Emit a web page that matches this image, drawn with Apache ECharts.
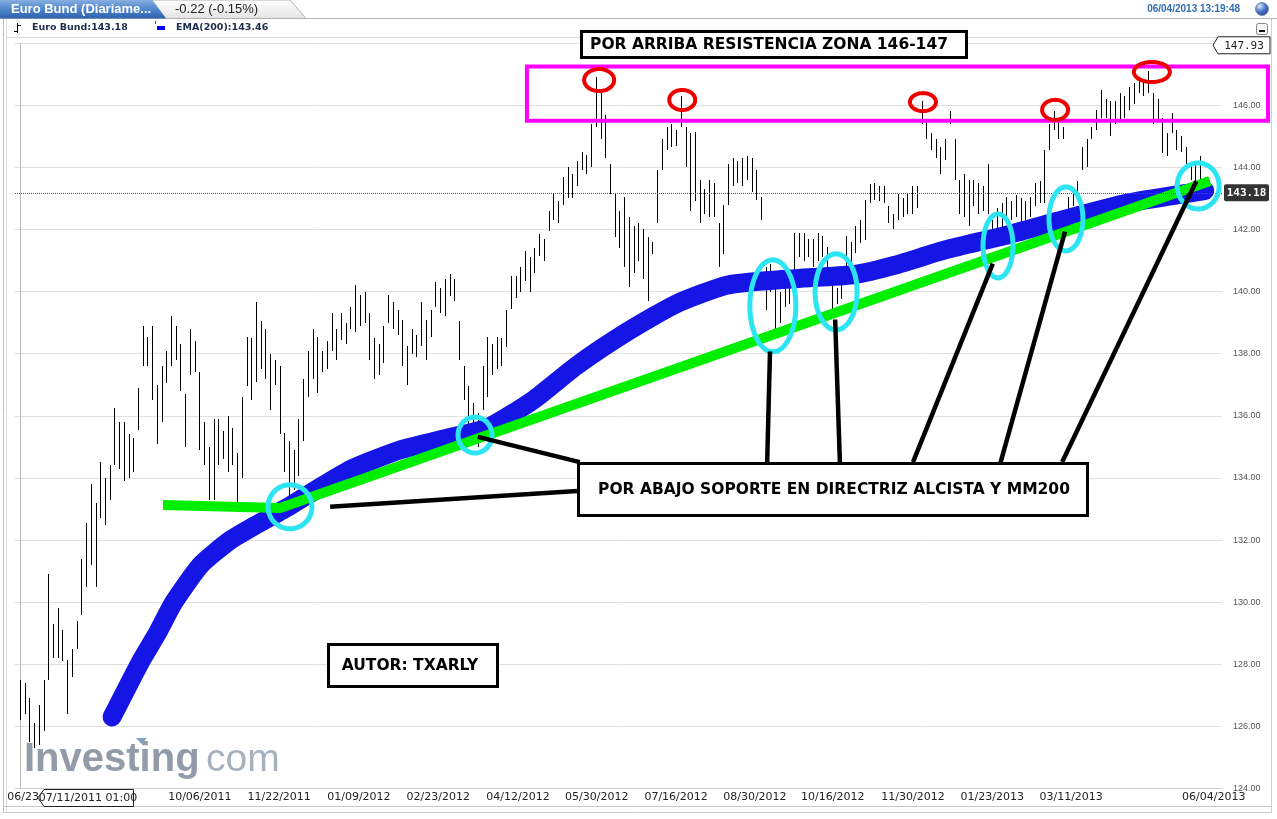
<!DOCTYPE html>
<html><head><meta charset="utf-8">
<script src="https://cdn.jsdelivr.net/npm/echarts@6/dist/echarts.min.js"></script>
<style>html,body{margin:0;padding:0;background:#fff;overflow:hidden}#c{width:1277px;height:819px}</style>
</head><body><div id="c"></div>
<script>
// ---- DATA (one bar ≈ two trading days) ----
const highs = [
127.5,127.4,126.9,126.1,126.7,127.5,130.9,129.3,129.8,129.1,
128.15,128.5,129.4,131.4,132.55,133.8,133.2,134.5,134.0,134.4,
136.25,135.8,135.8,135.4,135.3,136.9,138.9,138.55,138.9,137.0,
137.6,138.1,139.2,138.9,138.3,136.7,138.8,138.4,137.4,135.8,
135.0,135.9,135.9,135.5,136.0,135.6,134.8,136.6,138.55,138.5,
139.65,139.05,138.8,138.0,137.8,137.6,135.45,135.2,134.9,135.9,
137.2,138.1,138.8,138.55,138.1,138.4,139.3,138.8,139.3,139.0,
139.5,140.2,139.9,140.0,139.3,138.5,138.3,138.9,139.9,139.65,
139.4,139.1,138.25,138.8,138.6,139.65,139.1,139.4,140.3,140.1,
140.4,140.55,140.4,139.05,137.6,136.95,136.4,136.1,137.6,138.55,
138.3,138.55,138.5,139.4,140.5,140.5,140.8,141.3,141.1,141.4,
141.85,141.7,142.6,143.15,142.9,143.7,144.0,143.8,144.2,144.5,
144.4,145.4,146.9,146.4,145.7,144.1,143.15,142.6,143.05,142.4,
142.1,142.2,142.0,141.75,141.6,143.9,144.9,145.3,145.4,145.2,
146.3,145.3,145.1,145.15,143.6,143.3,143.6,143.5,142.2,142.8,
144.1,144.3,144.2,144.3,144.35,144.3,143.9,143.05,140.8,140.9,
140.6,140.0,140.4,140.2,141.9,141.9,141.9,141.7,141.7,141.9,
141.8,141.45,140.3,140.1,140.4,141.8,141.6,142.1,142.3,142.95,
143.45,143.5,143.4,143.4,142.75,142.5,143.15,143.0,143.15,143.4,
143.4,146.15,145.5,145.1,144.9,144.65,144.9,145.8,144.9,143.6,
143.8,143.6,143.6,143.5,143.4,144.1,142.3,142.7,142.85,143.05,
142.9,143.1,143.0,142.9,143.05,143.5,143.55,144.55,145.4,145.8,
145.5,145.3,143.05,143.15,143.55,144.65,144.9,145.3,145.85,146.5,
146.2,146.15,146.15,146.4,146.3,146.6,146.7,146.9,146.8,147.1,
146.4,146.2,145.6,145.1,145.75,145.2,145.0,144.65,144.1,144.2,
144.35,143.7,143.6
];
const lows = [
126.2,126.4,125.5,125.3,125.4,125.85,127.5,128.2,128.2,128.1,
126.4,127.6,128.5,129.6,130.5,131.2,130.5,132.7,132.5,133.3,
134.4,134.3,133.9,134.0,134.2,135.55,137.6,137.6,136.5,135.1,
135.8,137.05,137.6,137.8,136.8,135.0,137.3,137.4,134.9,134.4,
133.3,133.3,134.4,134.6,134.2,134.4,132.9,134.0,136.95,136.5,
137.1,137.5,137.2,136.2,137.0,135.4,134.2,133.3,133.6,134.05,
135.2,136.6,137.2,136.75,137.4,137.5,138.1,137.8,138.45,138.3,
138.8,138.7,138.9,139.0,137.8,137.2,137.3,137.7,139.0,138.8,
138.6,137.6,137.0,138.0,137.9,138.25,137.8,138.55,139.5,139.3,
139.2,139.85,139.7,137.8,136.5,135.35,135.2,135.0,136.2,136.6,
137.3,137.5,137.6,138.2,139.45,139.8,140.0,140.35,140.0,140.6,
141.15,141.0,141.95,142.3,142.2,142.8,143.0,143.0,143.4,143.9,
143.8,144.0,145.3,144.9,144.3,143.15,141.75,141.4,140.8,140.15,
140.6,141.0,140.4,139.7,141.2,142.2,143.9,144.55,144.65,144.7,
145.3,144.0,142.6,142.9,142.2,142.5,142.4,142.4,140.8,141.2,
142.8,143.4,143.5,143.4,143.6,143.2,142.95,142.3,139.4,140.0,
138.7,139.0,139.5,139.6,140.6,141.1,141.0,141.1,140.8,141.0,
141.1,140.4,139.4,139.6,139.75,140.75,140.9,141.25,141.55,141.65,
142.85,142.95,142.9,142.85,142.2,142.0,142.3,142.4,142.5,142.5,
142.7,145.4,144.9,144.55,144.3,143.8,144.25,145.4,143.6,142.5,
142.4,142.1,142.75,142.5,142.6,142.5,141.45,141.8,142.0,142.2,
142.3,142.4,142.2,142.3,142.4,142.75,142.85,142.85,144.55,145.2,
144.9,144.9,142.6,142.75,143.05,143.9,144.0,144.9,145.2,145.6,
145.6,145.0,145.4,145.5,145.6,145.85,146.05,146.4,146.3,146.4,
145.4,145.5,144.45,144.35,145.1,144.55,144.5,144.1,143.6,143.5,
143.5,143.05,143.1
];
// hand-drawn EMA(200) stroke (bar index, price)
const emaIdx = [19.5,25.6,29.1,32.6,38.3,44.6,49.6,57.2,63.6,70.4,80.5,91.1,98.9,108.7,117.8,128.6,139.0,149.6,158,167.7,176.9,185.4,196.0,208.6,220.6,234.7,248.9,251];
const emaVal = [126.3,128.1,129.0,130.0,131.2,132.0,132.45,133.1,133.7,134.3,134.9,135.3,135.6,136.5,137.6,138.7,139.6,140.2,140.35,140.45,140.55,140.85,141.34,141.8,142.3,142.85,143.2,143.25];
// green trend line
const trendIdx = [30.3,55.1,252.1];
const trendVal = [133.13,133.03,143.56];
// x tick labels and their bar index
const tickLabels = ['06/23/2011','10/06/2011','11/22/2011','01/09/2012','02/23/2012','04/12/2012','05/30/2012','07/16/2012','08/30/2012','10/16/2012','11/30/2012','01/23/2013','03/11/2013','06/04/2013'];
const tickIdx = [4,38.1,54.9,71.8,88.6,105.5,122.2,139.0,155.7,172.2,189.2,206.0,222.7,252.9];
// annotations in data space
const resZone = [[107.4,147.25,264.4,145.5]];
const redMarks = [[122.7,146.81],[140.3,146.17],[191.3,146.1],[219.3,145.85],[239.8,147.07]];
const cyanMarks = [[57.2,133.07],[96.4,135.38],[159.5,139.54],[172.9,139.99],[207.2,141.47],[221.6,142.34],[249.6,143.4]];
const pointers = [[65.7,133.07,118.0,133.58],[97.0,135.32,118.6,134.51],[158.9,138.07,158.3,134.51],[172.7,139.1,173.7,134.51],[206.1,140.9,189.2,134.51],[221.4,141.93,207.6,134.42],[249.2,143.55,220.8,134.51]];
const lastPrice = 143.18, topPrice = 147.93, emaLast = 143.46, change = '-0.22 (-0.15%)';

// ---- STYLE ----
const redR = [[15,11],[13,10],[13,9],[13,10],[18,10]];
const cyanR = [[22,22],[17,18],[23,46],[21,38],[15,32],[17,32],[21,23]];
const X_MIN = -1.06, X_MAX = 254.66;

function ellipse(c, rx, ry){
  const pts=[]; for(let k=0;k<60;k++){const a=k/60*Math.PI*2; pts.push([c[0]+rx*Math.cos(a), c[1]+ry*Math.sin(a)]);} return pts;
}

const chart = echarts.init(document.getElementById('c'), null, {renderer:'canvas'});
const boxText = (x,y,w,h,txt,tx)=>[
  {type:'rect', shape:{x:x,y:y,width:w,height:h}, style:{fill:'#fff', stroke:'#000', lineWidth:3}, z:100},
  {type:'text', x:tx, y:y+h/2+0.5, style:{text:txt, font:'bold 15.5px "DejaVu Sans"', fill:'#000', align:'center', verticalAlign:'middle'}, z:101}
];

chart.setOption({
  animation:false,
  backgroundColor:'#fff',
  grid:{left:15, right:55, top:43.1, bottom:30.5, containLabel:false, outerBoundsMode:'none'},
  xAxis:{type:'value', min:X_MIN, max:X_MAX,
    axisLine:{show:true, lineStyle:{color:'#cfcfcf'}}, axisTick:{show:false}, splitLine:{show:false},
    axisLabel:{customValues:tickIdx, margin:3, fontSize:11, fontFamily:'DejaVu Sans', color:'#222',
      formatter:(v)=>{const k=tickIdx.indexOf(v); return k>=0?tickLabels[k]:'';}}},
  yAxis:{type:'value', position:'right', min:124, max:148, interval:2,
    axisLine:{show:true, lineStyle:{color:'#b8b8b8'}}, axisTick:{show:false},
    splitLine:{lineStyle:{color:'#dedede'}},
    axisLabel:{showMaxLabel:false, margin:11, fontSize:9, fontFamily:'Liberation Sans', color:'#555', formatter:(v)=>v.toFixed(2)}},
  series:[
    {type:'custom', name:'Euro Bund', silent:true, z:2,
     data:highs.map((h,k)=>[k, lows[k], h]), encode:{x:0, y:[1,2]},
     renderItem:(p, api)=>{
       const a=api.coord([api.value(0), api.value(2)]), b=api.coord([api.value(0), api.value(1)]);
       const x=Math.round(a[0])+0.5;
       return {type:'line', shape:{x1:x,y1:Math.round(a[1]),x2:x,y2:Math.round(b[1])}, style:{stroke:'#000', lineWidth:1}};
     }},
    {type:'line', name:'EMA(200)', silent:true, z:3, smooth:0.2, showSymbol:false,
     data:emaIdx.map((x,k)=>[x, emaVal[k]]),
     lineStyle:{width:19, color:'#1515e6', cap:'round', join:'round'},
     markLine:{silent:true, symbol:'none', label:{show:false}, data:[{yAxis:lastPrice}],
       lineStyle:{type:'dotted', color:'#555', width:1}}},
    {type:'line', name:'trend', silent:true, z:4, showSymbol:false,
     data:trendIdx.map((x,k)=>[x, trendVal[k]]),
     lineStyle:{width:10, color:'#00ee00', cap:'butt'}},
    {type:'custom', silent:true, z:5, clip:false, data:resZone, encode:{x:[0,2], y:[1,3]},
     renderItem:(p, api)=>{
       const a=api.coord([api.value(0), api.value(1)]), b=api.coord([api.value(2), api.value(3)]);
       return {type:'rect', shape:{x:a[0],y:a[1],width:b[0]-a[0],height:b[1]-a[1]}, style:{fill:'none', stroke:'#ff00ff', lineWidth:4}};
     }},
    {type:'custom', silent:true, z:6, clip:false, data:cyanMarks, encode:{x:0,y:1},
     renderItem:(p, api)=>{
       const c=api.coord([api.value(0), api.value(1)]); const r=cyanR[p.dataIndex];
       return {type:'polygon', shape:{points:ellipse(c,r[0],r[1])}, style:{fill:'none', stroke:'#2ce4f2', lineWidth:5}};
     }},
    {type:'custom', silent:true, z:6, clip:false, data:redMarks, encode:{x:0,y:1},
     renderItem:(p, api)=>{
       const c=api.coord([api.value(0), api.value(1)]); const r=redR[p.dataIndex];
       return {type:'polygon', shape:{points:ellipse(c,r[0],r[1])}, style:{fill:'none', stroke:'#ee0000', lineWidth:4}};
     }},
    {type:'custom', silent:true, z:7, clip:false, data:pointers, encode:{x:[0,2], y:[1,3]},
     renderItem:(p, api)=>{
       const a=api.coord([api.value(0), api.value(1)]), b=api.coord([api.value(2), api.value(3)]);
       return {type:'line', shape:{x1:a[0],y1:a[1],x2:b[0],y2:b[1]}, style:{stroke:'#000', lineWidth:4.5, lineCap:'butt'}};
     }},
    {type:'custom', silent:true, z:8, clip:false, data:[[X_MAX, topPrice, 0],[X_MAX, lastPrice, 1]], encode:{x:0,y:1},
     renderItem:(p, api)=>{
       const c=api.coord([api.value(0), api.value(1)]); const v=api.value(1).toFixed(2); const x=c[0], y=c[1];
       if(api.value(2)===0){
         return {type:'group', children:[
           {type:'polygon', shape:{points:[[x-9,y],[x-4,y-8.5],[x+48,y-8.5],[x+48,y+8.5],[x-4,y+8.5]]}, style:{fill:'#fff', stroke:'#222', lineWidth:1}},
           {type:'text', x:x+22, y:y+0.5, style:{text:v, font:'11px "DejaVu Sans Mono"', fill:'#222', align:'center', verticalAlign:'middle'}}
         ]};
       }
       return {type:'group', children:[
         {type:'rect', shape:{x:x+2,y:y-8.5,width:45,height:17,r:2}, style:{fill:'#333'}},
         {type:'text', x:x+24.5, y:y+0.5, style:{text:v, font:'bold 11px "DejaVu Sans Mono"', fill:'#fff', align:'center', verticalAlign:'middle'}}
       ]};
     }}
  ],
  graphic:[
    // frame lines
    {type:'line', shape:{x1:0,y1:18.5,x2:1277,y2:18.5}, style:{stroke:'#b5b5b5', lineWidth:1}, z:0},
    {type:'line', shape:{x1:3.5,y1:19,x2:3.5,y2:812}, style:{stroke:'#bdbdbd', lineWidth:1}, z:0},
    {type:'line', shape:{x1:6.5,y1:19,x2:6.5,y2:812}, style:{stroke:'#dadada', lineWidth:1}, z:0},
    {type:'line', shape:{x1:1271.5,y1:19,x2:1271.5,y2:812}, style:{stroke:'#cfcfcf', lineWidth:1}, z:0},
    {type:'line', shape:{x1:7,y1:37.5,x2:1271,y2:37.5}, style:{stroke:'#d8d8d8', lineWidth:1}, z:0},
    {type:'line', shape:{x1:3,y1:806.5,x2:1272,y2:806.5}, style:{stroke:'#c8c8c8', lineWidth:1}, z:0},
    {type:'line', shape:{x1:3,y1:812.5,x2:1272,y2:812.5}, style:{stroke:'#c8c8c8', lineWidth:1}, z:0},
    // tabs
    {type:'polygon', shape:{points:[[152,0],[290,0],[306,18.5],[166,18.5]]},
     style:{fill:new echarts.graphic.LinearGradient(0,0,0,1,[{offset:0,color:'#ffffff'},{offset:1,color:'#e3e3e3'}]), stroke:'#b0b0b0', lineWidth:1}, z:1},
    {type:'polygon', shape:{points:[[0,0],[152,0],[166,18.5],[0,18.5]]},
     style:{fill:new echarts.graphic.LinearGradient(0,0,0,1,[{offset:0,color:'#86aee0'},{offset:0.5,color:'#4f86cc'},{offset:1,color:'#2d62ad'}])}, z:2},
    {type:'text', x:11, y:9.5, style:{text:'Euro Bund (Diariame...', font:'bold 13px "Liberation Sans"', fill:'#fff', verticalAlign:'middle'}, z:3},
    {type:'text', x:175, y:9.5, style:{text:change, font:'13px "Liberation Sans"', fill:'#222', verticalAlign:'middle'}, z:3},
    {type:'text', x:1240, y:9.5, style:{text:'06/04/2013 13:19:48', font:'bold 10px "Liberation Sans"', fill:'#2f6db3', align:'right', verticalAlign:'middle'}, z:3},
    {type:'circle', shape:{cx:1262,cy:9,r:6.5}, style:{fill:new echarts.graphic.RadialGradient(0.35,0.3,0.8,[{offset:0,color:'#dfe9ff'},{offset:0.5,color:'#4a73c6'},{offset:1,color:'#1d3a86'}]), stroke:'#7f8fb0', lineWidth:1}, z:3},
    // minimize button
    {type:'rect', shape:{x:1256.5,y:23.5,width:11,height:11,r:2}, style:{fill:'#f4f4f4', stroke:'#888', lineWidth:1}, z:3},
    {type:'rect', shape:{x:1259,y:30,width:6,height:2}, style:{fill:'#111'}, z:4},
    // legend row
    {type:'line', shape:{x1:17.5,y1:23,x2:17.5,y2:33}, style:{stroke:'#000', lineWidth:1}, z:3},
    {type:'line', shape:{x1:14,y1:31.5,x2:17.5,y2:31.5}, style:{stroke:'#000', lineWidth:1}, z:3},
    {type:'line', shape:{x1:17.5,y1:25.5,x2:21,y2:25.5}, style:{stroke:'#000', lineWidth:1}, z:3},
    {type:'text', x:32, y:28, style:{text:'Euro Bund:'+lastPrice.toFixed(2), font:'bold 9.5px "DejaVu Sans"', fill:'#1c2b4b', verticalAlign:'middle'}, z:3},
    {type:'rect', shape:{x:157,y:26,width:8,height:4}, style:{fill:'#0000ff'}, z:3},
    {type:'line', shape:{x1:155.5,y1:21,x2:155.5,y2:24}, style:{stroke:'#3355aa', lineWidth:1}, z:3},
    {type:'text', x:176, y:28, style:{text:'EMA(200):'+emaLast.toFixed(2), font:'bold 9.5px "DejaVu Sans"', fill:'#1c2b4b', verticalAlign:'middle'}, z:3},
    // watermark
    {type:'text', x:24, y:760, style:{text:'Investing', font:'bold 40px "Liberation Sans"', fill:'#7f8b99', opacity:0.85, verticalAlign:'middle'}, z:1},
    {type:'text', x:206, y:760, style:{text:'com', font:'39px "Liberation Sans"', fill:'#97a3b1', opacity:0.85, verticalAlign:'middle'}, z:1},
    {type:'polygon', shape:{points:[[136,738],[147,738],[141.5,744]]}, style:{fill:'#6d8fb5', opacity:0.85}, z:1},
    // crosshair date label
    {type:'polygon', shape:{points:[[38,797.5],[44,789.5],[133.5,789.5],[133.5,806.5],[44,806.5]]}, style:{fill:'#fff', stroke:'#222', lineWidth:1}, z:50},
    {type:'text', x:88, y:798.5, style:{text:'07/11/2011 01:00', font:'11px "DejaVu Sans"', fill:'#222', align:'center', verticalAlign:'middle'}, z:51},
    // annotation boxes
    ...boxText(581.5,31.5,385,26,'POR ARRIBA RESISTENCIA ZONA 146-147',769),
    ...boxText(578.5,463.5,509,52,'POR ABAJO SOPORTE EN DIRECTRIZ ALCISTA Y MM200',834),
    ...boxText(328.5,644.5,169,42,'AUTOR: TXARLY',410)
  ]
});
</script>
</body></html>
